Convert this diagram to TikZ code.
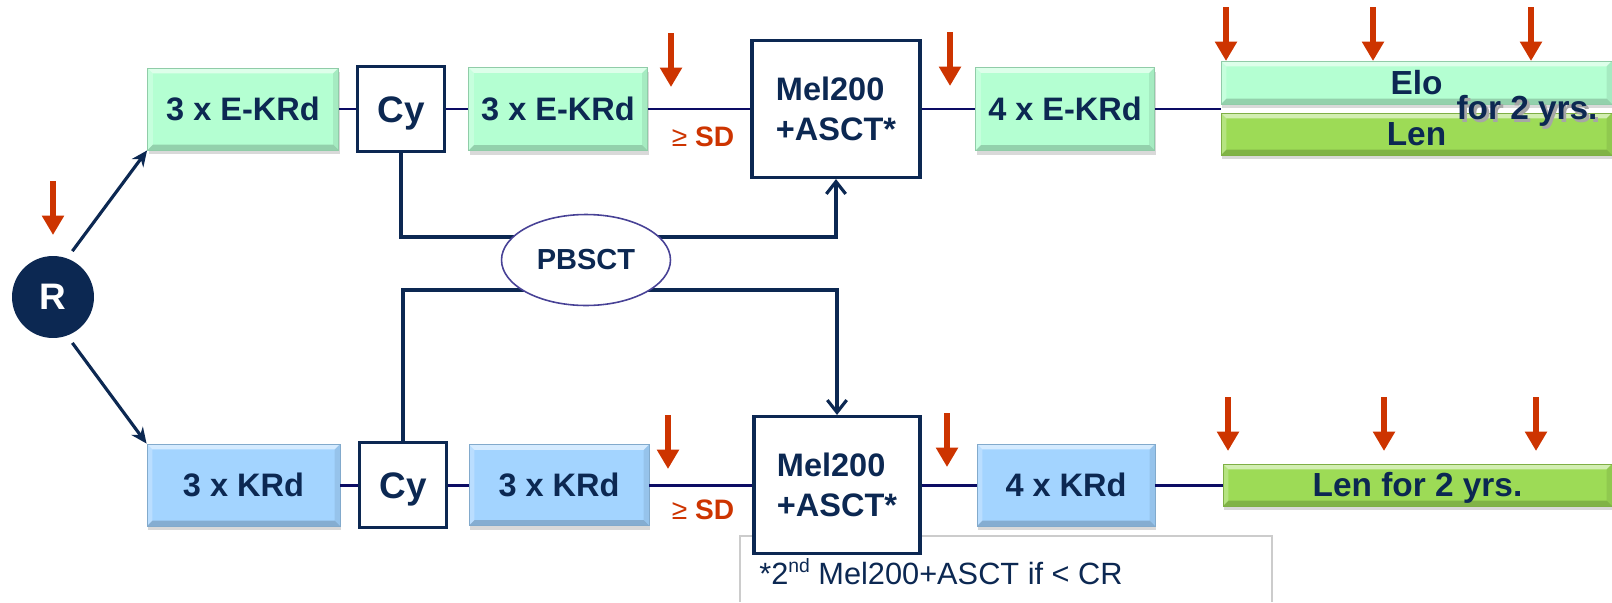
\documentclass[tikz,border=0pt]{standalone}
\usepackage{fontspec}
\setmainfont{Liberation Sans}
\usetikzlibrary{arrows.meta, positioning, shapes.geometric, shadows}

\definecolor{DeepNavy}{RGB}{12, 40, 82}
\definecolor{LinkNavy}{RGB}{12, 12, 100}
\definecolor{MintFill}{RGB}{180, 255, 210}
\definecolor{SkyFill}{RGB}{163, 212, 255}
\definecolor{LimeFill}{RGB}{157, 219, 86}
\definecolor{DoseRed}{RGB}{205, 52, 0}
\definecolor{OvalRim}{RGB}{72, 66, 150}

% text with a soft offset shadow behind it
\newcommand{\softshadow}[1]{\makebox[0pt][l]{\hspace{1.6pt}\raisebox{-1.6pt}{\textcolor{black!35}{#1}}}#1}

\begin{document}
\begin{tikzpicture}[
    x=0.02cm, y=-0.02cm,
    every node/.style={text=DeepNavy, inner sep=0pt, align=center},
    boxtext/.style={font=\fontsize{18.5}{23}\selectfont\bfseries},
    bevel/.style={boxtext, text height=13.3pt, text depth=0pt,
        fill=#1, draw=#1!80!black, line width=0.5pt,
        drop shadow={shadow xshift=0.8pt, shadow yshift=-2.4pt, opacity=0.3},
        path picture={
          \path (path picture bounding box.north west) coordinate (bnw)
                (path picture bounding box.north east) coordinate (bne)
                (path picture bounding box.south west) coordinate (bsw)
                (path picture bounding box.south east) coordinate (bse);
          \fill[white, opacity=0.55] (bnw) -- (bne) -- ([shift={(-3pt,-3pt)}]bne) -- ([shift={(3pt,-3pt)}]bnw) -- cycle;
          \fill[white, opacity=0.25] (bnw) -- (bsw) -- ([shift={(3pt,3pt)}]bsw) -- ([shift={(3pt,-3pt)}]bnw) -- cycle;
          \fill[black, opacity=0.08] (bne) -- (bse) -- ([shift={(-3pt,3pt)}]bse) -- ([shift={(-3pt,-3pt)}]bne) -- cycle;
          \fill[black, opacity=0.18] (bsw) -- (bse) -- ([shift={(-3pt,3pt)}]bse) -- ([shift={(3pt,3pt)}]bsw) -- cycle;
        }},
    barbox/.style={bevel=#1, font=\fontsize{19}{23}\selectfont\bfseries, text height=13.6pt},
    framebox/.style={boxtext, draw=DeepNavy, fill=white, line width=1.8pt},
    cybox/.style={framebox, font=\fontsize{21}{25}\selectfont\bfseries,
        text height=15.1pt, text depth=0pt, minimum width=1.75cm, minimum height=1.7cm},
    link/.style={draw=LinkNavy, line width=1.7pt},
    feed/.style={draw=DeepNavy, line width=1.8pt, -{Straight Barb[length=7pt, width=11pt]}},
    flow/.style={draw=DeepNavy, line width=1.8pt, -{Stealth[length=9pt, width=8pt]}},
    dose/.style={draw=DoseRed, line width=3.8pt, -{Triangle[length=11pt, width=12pt]}},
    sdnote/.style={text=DoseRed, font=\fontsize{16}{19}\selectfont\bfseries}
]
\useasboundingbox (0,0) rectangle (1612,602);

% footnote frame, partly hidden by the lower Mel200 box
\draw[gray!40, line width=0.6pt] (740,602) |- (1272,536) -- (1272,602);
\node[anchor=west, font=\fontsize{17.5}{20}\selectfont] (note) at (759,572)
    {*2\raisebox{0.75ex}{\fontsize{11}{11}\selectfont nd} Mel200+ASCT if < CR};

\node[circle, fill=DeepNavy, minimum size=1.64cm, text=white,
      font=\fontsize{21}{25}\selectfont\bfseries] (R) at (53,297) {R};

% upper arm
\node[bevel=MintFill, minimum width=3.82cm, minimum height=1.64cm] (ekrdA) at (243,109) {3 x E-KRd};
\node[cybox] (cyTop) at (401,109) {Cy};
\node[bevel=MintFill, minimum width=3.58cm, minimum height=1.66cm] (ekrdB) at (558,109) {3 x E-KRd};
\node[framebox, align=left, minimum width=3.36cm, minimum height=2.74cm] (melTop) at (836,109) {Mel200\\+ASCT*};
\node[bevel=MintFill, minimum width=3.58cm, minimum height=1.66cm] (ekrdC) at (1065,109) {4 x E-KRd};
\node[barbox=MintFill, minimum width=7.82cm, minimum height=0.86cm] (eloBar) at (1416.5,82.5) {Elo};
\node[barbox=LimeFill, minimum width=7.82cm, minimum height=0.84cm] (lenBar) at (1416.5,134) {Len};
\node[font=\fontsize{19}{23}\selectfont\bfseries, text height=13.6pt, text depth=0pt]
    (twoYrs) at (1527,108) {\softshadow{for 2 yrs.}};

% lower arm
\node[bevel=SkyFill, minimum width=3.86cm, minimum height=1.64cm] (krdA) at (243.5,485) {3 x KRd};
\node[cybox] (cyLow) at (403,485) {Cy};
\node[bevel=SkyFill, minimum width=3.6cm, minimum height=1.62cm] (krdB) at (559,485) {3 x KRd};
\node[framebox, align=left, minimum width=3.32cm, minimum height=2.74cm] (melLow) at (837,485) {Mel200\\+ASCT*};
\node[bevel=SkyFill, minimum width=3.56cm, minimum height=1.64cm] (krdC) at (1066,485) {4 x KRd};
\node[barbox=LimeFill, minimum width=7.78cm, minimum height=0.84cm] (lenLow) at (1417.5,485) {Len for 2 yrs.};

\draw[link] (ekrdA) -- (cyTop) (cyTop) -- (ekrdB) (ekrdB) -- (melTop) (melTop) -- (ekrdC);
\draw[link] (ekrdC) -- (ekrdC.east -| eloBar.west);
\draw[link] (krdA) -- (cyLow) (cyLow) -- (krdB) (krdB) -- (melLow) (melLow) -- (krdC) (krdC) -- (lenLow);

\draw[flow, shorten <=5pt] (R.70) -- (ekrdA.south west);
\draw[flow, shorten <=5pt] (R.-70) -- (krdA.north west);

% stem cell harvest feeding both transplants
\coordinate (upRail) at (0,237);
\coordinate (lowRail) at (0,290);
\draw[feed] (cyTop.south) |- (upRail -| melTop.south) -- (melTop.south);
\draw[feed] (cyLow.north) |- (lowRail -| melLow.north) -- (melLow.north);
\node[ellipse, draw=OvalRim, line width=0.9pt, fill=white, minimum width=3.38cm, minimum height=1.82cm,
      font=\fontsize{16.5}{20}\selectfont\bfseries] (pbsct) at (586,260) {PBSCT};

\node[sdnote] (sdTop) at (703,137) {{\mdseries ≥} SD};
\node[sdnote] (sdLow) at (703,510) {{\mdseries ≥} SD};

% assessment time points
\foreach \px/\py in {53/181, 671/33, 950/32, 1226/7, 1373/7, 1531/7,
                     668/415, 947/413, 1228/397, 1384/397, 1536/397}
  \draw[dose] (\px,\py) -- ++(0,54);
\end{tikzpicture}
\end{document}
